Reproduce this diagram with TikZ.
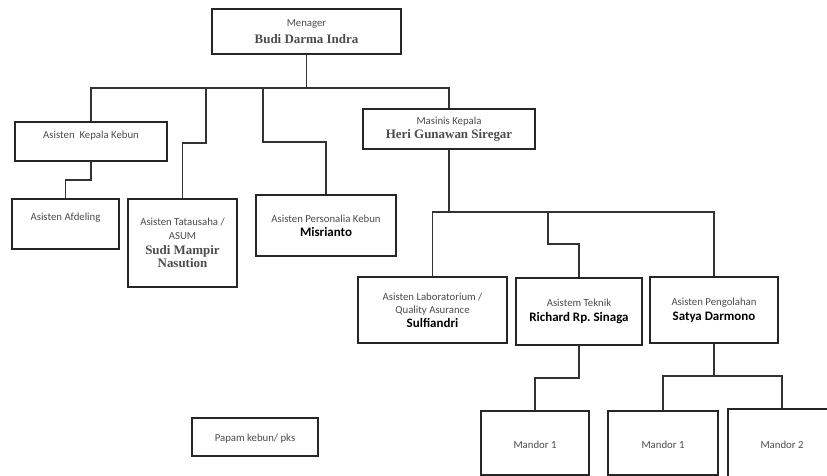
\documentclass[tikz,border=0pt]{standalone}
\usepackage{fontspec}
\newfontfamily\calfont{Carlito}
\newfontfamily\serfont{Liberation Serif}
\newcommand{\nmser}[1]{{\serfont\bfseries\fontsize{13}{14}\selectfont #1}}
\newcommand{\nmsan}[1]{{\calfont\bfseries\fontsize{13}{14}\selectfont\color{black} #1}}
\frenchspacing
\begin{document}
\begin{tikzpicture}[x=1bp,y=-1bp,
  box/.style={draw=black!85,line width=1.2bp,inner sep=0pt,fill=white,
    align=center,text=black!70,font=\calfont\fontsize{10.8}{14}\selectfont},
  lbl/.style={inner sep=0pt,text=black!70,font=\calfont\fontsize{10.8}{14}\selectfont},
  conn/.style={draw=black!80,line width=1.1bp}]
\useasboundingbox (0,0) rectangle (827,476);
\fill[white] (0,0) rectangle (827,476);
% boxes
\node[box,minimum width=189bp,minimum height=45bp] (man) at (306.5,31.5) {Menager\\[2.5bp]\nmser{Budi Darma Indra}};
\node[box,minimum width=152bp,minimum height=39bp] (kk) at (91,141.5) {};
\node[lbl] (kkT) at (91,136) {Asisten\ \ Kepala Kebun};
\node[box,minimum width=107bp,minimum height=50bp] (afd) at (65.5,224) {};
\node[lbl] (afdT) at (65.5,218) {Asisten Afdeling};
\node[box,minimum width=109bp,minimum height=88bp] (tata) at (182.5,243) {Asisten Tatausaha /\\ASUM\\[1bp]\nmser{Sudi Mampir}\\[-1bp]\nmser{Nasution}};
\node[box,minimum width=140bp,minimum height=61bp] (pers) at (326,225.5) {Asisten Personalia Kebun\\\nmsan{Misrianto}};
\node[box,minimum width=172bp,minimum height=40bp] (heri) at (449,129) {Masinis Kepala\\\nmser{Heri Gunawan Siregar}};
\node[box,minimum width=149bp,minimum height=66bp] (lab) at (432.5,310) {Asisten Laboratorium /\\[-1bp]Quality Asurance\\\nmsan{Sulfiandri}};
\node[box,minimum width=126bp,minimum height=67bp] (tek) at (579,311.5) {Asistem Teknik\\[1bp]\nmsan{Richard Rp. Sinaga}};
\node[box,minimum width=128bp,minimum height=66bp] (peng) at (714,310) {Asisten Pengolahan\\[1bp]\nmsan{Satya Darmono}};
\node[box,minimum width=108bp,minimum height=64bp] (m1) at (535,443) {};
\node[lbl] (m1T) at (535,445) {Mandor 1};
\node[box,minimum width=110bp,minimum height=64bp] (m1b) at (663,443) {};
\node[lbl] (m1bT) at (663,445) {Mandor 1};
\node[box,minimum width=108bp,minimum height=72bp] (m2) at (782,445) {};
\node[lbl] (m2T) at (782,445) {Mandor 2};
\node[box,minimum width=126bp,minimum height=38bp] (pap) at (255,437) {};
\node[lbl] (papT) at (255,439) {Papam kebun/ pks};
% connector points
\coordinate (b1) at (306.5,88);
\coordinate (tA) at (206,88);
\coordinate (tB) at (206,143);
\coordinate (pA) at (263,88);
\coordinate (pB) at (263,142);
\coordinate (kB) at (91,180);
\coordinate (b2) at (449,212);
\coordinate (eA) at (548,212);
\coordinate (eB) at (548,244);
\coordinate (mA) at (579,378);
\coordinate (mB) at (714,376);
% connectors
\draw[conn] (man.south) -- (b1);
\draw[conn] (b1) -| (kk.north);
\draw[conn] (b1) -| (heri.north);
\draw[conn] (tA) -- (tB) -| (tata.north);
\draw[conn] (pA) -- (pB) -| (pers.north);
\draw[conn] (kk.south) -- (kB) -| (afd.north);
\draw[conn] (heri.south) -- (b2);
\draw[conn] (b2) -| (lab.north);
\draw[conn] (b2) -| (peng.north);
\draw[conn] (eA) -- (eB) -| (tek.north);
\draw[conn] (tek.south) -- (mA) -| (m1.north);
\draw[conn] (peng.south) -- (mB);
\draw[conn] (mB) -| (m1b.north);
\draw[conn] (mB) -| (m2.north);
\end{tikzpicture}
\end{document}
